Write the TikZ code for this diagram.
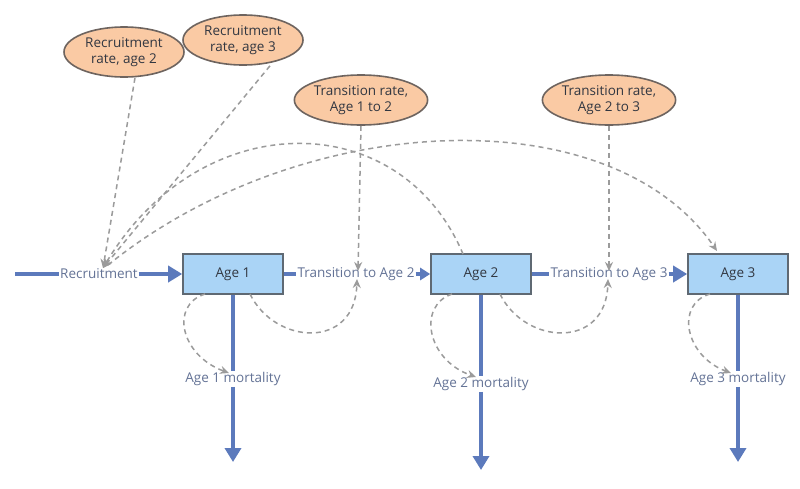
\documentclass[tikz,border=0pt]{standalone}
\usepackage{fontspec}
\setmainfont{Open Sans}
\usetikzlibrary{shapes.geometric,arrows.meta}
\definecolor{boxfill}{RGB}{170,212,246}
\definecolor{boxdraw}{RGB}{95,105,115}
\definecolor{ellfill}{RGB}{250,202,164}
\definecolor{elldraw}{RGB}{110,100,95}
\definecolor{flowcol}{RGB}{92,122,188}
\definecolor{flowtext}{RGB}{100,115,150}
\definecolor{linkcol}{RGB}{155,155,155}
\definecolor{stocktext}{RGB}{50,55,65}
\begin{document}
\begin{tikzpicture}[x=1pt,y=-1pt,
  stock/.style={draw=boxdraw,fill=boxfill,line width=1.6pt,minimum width=100pt,minimum height=40pt,inner sep=0pt,text=stocktext,font=\fontsize{13.5}{15}\selectfont},
  param/.style={ellipse,draw=elldraw,fill=ellfill,line width=1.6pt,minimum width=120pt,minimum height=50pt,inner sep=0pt,align=center,text=stocktext,font=\fontsize{13.5}{16}\selectfont},
  flowlabel/.style={inner sep=1pt,text=flowtext,font=\fontsize{13.5}{15}\selectfont},
  flow/.style={draw=flowcol,line width=3.5pt},
  flowtip/.style={flow,-{Triangle[length=14pt,width=16pt]}},
  smalltip/.style={flow,-{Triangle[length=10pt,width=12pt]}},
  link/.style={draw=linkcol,line width=1.5pt,dash pattern=on 5pt off 4pt,-{Stealth[length=9pt,width=8pt]}}
]
\useasboundingbox (0,0) rectangle (800,488);
\fill[white] (0,0) rectangle (800,488);

% parameters
\node[param] (r2) at (124,52) {Recruitment\\rate, age 2};
\node[param] (r3) at (243,40) {Recruitment\\rate, age 3};
\node[param] (t12) at (361,100) {Transition rate,\\Age 1 to 2};
\node[param] (t23) at (609,100) {Transition rate,\\Age 2 to 3};

% stocks
\node[stock] (a1) at (233,274) {Age 1};
\node[stock] (a2) at (481,274) {Age 2};
\node[stock] (a3) at (738,274) {Age 3};

% flow labels
\node[flowlabel] (rec) at (99,274) {Recruitment};
\node[flowlabel] (tr2) at (356,274) {Transition to Age 2};
\node[flowlabel] (tr3) at (609,274) {Transition to Age 3};
\node[flowlabel] (m1) at (233,379) {Age 1 mortality};
\node[flowlabel] (m2) at (481,384) {Age 2 mortality};
\node[flowlabel] (m3) at (738,379) {Age 3 mortality};

\coordinate (src) at (15,274);
\coordinate (sink1) at (233,462);
\coordinate (sink2) at (481,470);
\coordinate (sink3) at (738,462);

% flows
\draw[flow] (src) -- (rec.west);
\draw[flowtip] (rec.east) -- (a1.west);
\draw[flow] (a1.east) -- (tr2.west);
\draw[smalltip] (tr2.east) -- (a2.west);
\draw[flow] (a2.east) -- (tr3.west);
\draw[flowtip] (tr3.east) -- (a3.west);
\draw[flow] (a1.south) -- (m1.north);
\draw[flowtip] (m1.south) -- (sink1);
\draw[flow] (a2.south) -- (m2.north);
\draw[flowtip] (m2.south) -- (sink2);
\draw[flow] (a3.south) -- (m3.north);
\draw[flowtip] (m3.south) -- (sink3);

% link end points
\coordinate (recin) at (103,268);
\coordinate (recout) at (108,265);
\coordinate (v12top) at (358,271);
\coordinate (v12bot) at (357,279);
\coordinate (v23top) at (609,271);
\coordinate (v23bot) at (608,279);
\coordinate (m1in) at (229,373);
\coordinate (m2in) at (476,377);
\coordinate (m3in) at (731,373);
\coordinate (a1br) at (250,294);
\coordinate (a2br) at (500,294);
\coordinate (a1bl) at (205,294);
\coordinate (a2bl) at (452,294);
\coordinate (a3bl) at (710,294);
\coordinate (a2tl) at (463,254);
\coordinate (a3top) at (717,251);

% links
\draw[link] ([xshift=11pt]r2.south) -- (recin);
\draw[link] ([xshift=27pt]r3.south) -- (recin);
\draw[link] (t12.south) -- (v12top);
\draw[link] (t23.south) -- (v23top);
\draw[link] (a2tl) .. controls (400,105) and (200,105) .. (recin);
\draw[link] (recout) .. controls (300,110) and (610,95) .. (a3top);
\draw[link] (a1br) .. controls (275,345) and (355,350) .. (v12bot);
\draw[link] (a2br) .. controls (525,345) and (606,350) .. (v23bot);
\draw[link] (a1bl) .. controls (170,305) and (180,355) .. (m1in);
\draw[link] (a2bl) .. controls (417,306) and (427,360) .. (m2in);
\draw[link] (a3bl) .. controls (675,304) and (685,356) .. (m3in);
\end{tikzpicture}
\end{document}
